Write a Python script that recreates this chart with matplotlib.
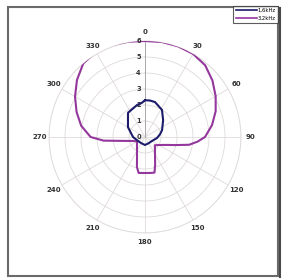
import numpy as np
import matplotlib
matplotlib.use("Agg")
import matplotlib.pyplot as plt
from matplotlib.lines import Line2D
from matplotlib.patches import Rectangle

# ---- data ----
series_names = ["1,6kHz", "3,2kHz"]
angle_ticks = [0, 30, 60, 90, 120, 150, 180, 210, 240, 270, 300, 330]
radial_ticks = [0, 1, 2, 3, 4, 5, 6]

purple_angles = [0, 10, 20, 30, 40, 50, 60, 70, 80, 90, 95, 100, 105, 110, 120, 130,
                 140, 150, 160, 165, 170, 180, 190, 195, 200, 210, 220, 230, 240, 250,
                 260, 265, 270, 280, 290, 300, 310, 320, 330, 340, 350]
purple_vals = [6.0, 6.03, 6.03, 6.0, 5.85, 5.5, 5.1, 4.7, 4.25, 3.75, 3.3, 2.8, 1.95, 1.45, 1.0, 0.8,
               0.97, 1.25, 1.85, 2.3, 2.28, 2.25, 2.28, 1.95, 1.46, 1.0, 0.78, 0.65, 0.57, 0.73,
               1.4, 2.6, 3.4, 4.05, 4.55, 5.05, 5.55, 6.0, 6.15, 6.1, 6.05]

blue_angles = [0, 8, 16, 32, 47, 68, 80, 90, 95, 120, 150, 180, 210, 240, 270, 300, 325, 346, 355]
blue_vals = [2.3, 2.3, 2.27, 2.0, 1.55, 1.15, 0.95, 0.8, 0.75, 0.5, 0.45, 0.5, 0.45, 0.5, 0.75,
             1.23, 1.85, 2.06, 2.15]

W, H = 284, 279
fig = plt.figure(figsize=(W / 100, H / 100), dpi=100)
cx, cy, R = 145, 137, 96
ax = fig.add_axes([(cx - R) / W, (H - cy - R) / H, 2 * R / W, 2 * R / H], projection="polar")
ax.set_theta_zero_location("N")
ax.set_theta_direction(-1)

def closed(a, v):
    a = np.radians(list(a) + [a[0]])
    v = list(v) + [v[0]]
    return a, v

pa, pv = closed(purple_angles, purple_vals)
ba, bv = closed(blue_angles, blue_vals)
purple = "#93379c"
blue = "#1c1c6a"
ax.plot(pa, pv, color=purple, lw=1.5, zorder=3)
ax.plot(ba, bv, color=blue, lw=1.5, zorder=4)

ax.set_ylim(0, 6)
ax.set_yticks(radial_ticks)
ax.set_yticklabels([])
ax.set_xticks(np.radians(angle_ticks))
ax.set_xticklabels([str(a) for a in angle_ticks], fontsize=5, fontweight="bold", color="#333333")
ax.tick_params(axis="x", pad=-4)
ax.grid(True, color="#e0dada", lw=0.6)
ax.spines["polar"].set_color("#e0dada")
ax.spines["polar"].set_linewidth(0.6)

for r in radial_ticks:
    ax.annotate(str(r), xy=(0, r), xytext=(-3, 0), textcoords="offset points",
                ha="right", va="center", fontsize=4.8, fontweight="bold", color="#333333")
# main radial axis darker
ax.plot([0, 0], [0, 6], color="#a0a0a0", lw=0.6, zorder=2)

# legend
handles = [Line2D([], [], color=blue, lw=1.2), Line2D([], [], color=purple, lw=1.2)]
leg = fig.legend(handles, series_names, loc="upper right",
                 bbox_to_anchor=(278 / W, 1 - 6 / H), fontsize=3.8,
                 frameon=True, fancybox=False, edgecolor="#333333",
                 handlelength=4, handletextpad=0.2, borderpad=0.4,
                 labelspacing=0.5, borderaxespad=0)
leg.get_frame().set_linewidth(0.8)

# outer frame
fig.add_artist(Rectangle((8 / W, 3 / H), 270 / W, 269 / H, transform=fig.transFigure,
                         fill=False, edgecolor="#6a6a6a", lw=1.5))
fig.add_artist(Line2D([280 / W, 280 / W], [2 / H, 271 / H], transform=fig.transFigure,
                      color="#4a4a4a", lw=1.5))

fig.savefig("out.png", dpi=100)
